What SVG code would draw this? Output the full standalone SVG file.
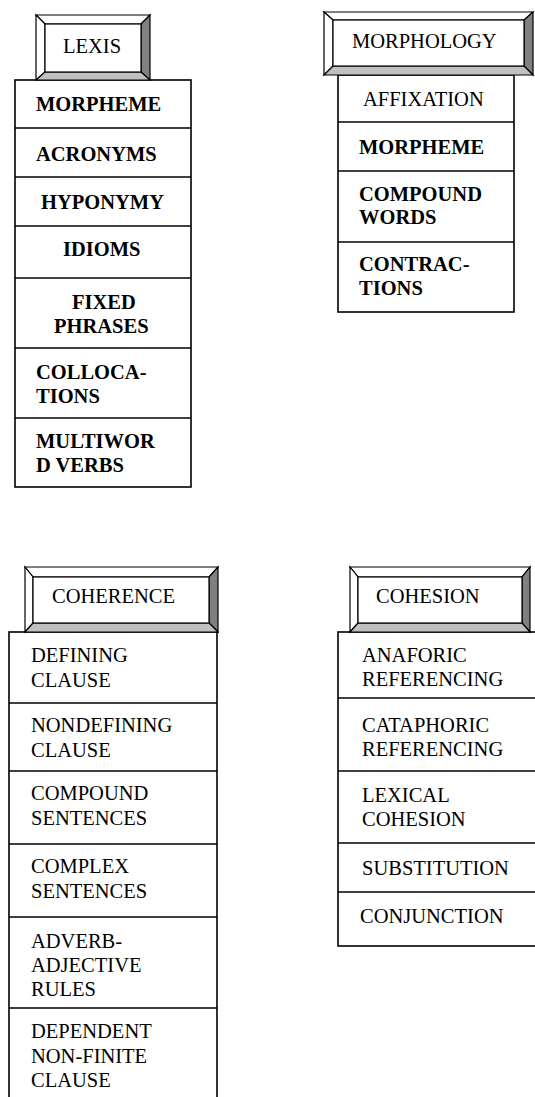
<svg xmlns="http://www.w3.org/2000/svg" width="535" height="1097" viewBox="0 0 535 1097" font-family="Liberation Serif, Times New Roman, DejaVu Serif, serif" font-size="20.5">
<style>
.bg{fill:#fff}
.col{fill:#fff;stroke:#000;stroke-width:1.6}
.sep{stroke:#000;stroke-width:1.6}
.lt{fill:#fff;stroke:#000;stroke-width:1.2;stroke-linejoin:miter}
.dk{fill:#808080;stroke:#000;stroke-width:1.2}
.md{fill:#c0c0c0;stroke:#000;stroke-width:1.2}
.in{fill:#fff;stroke:#000;stroke-width:1.2}
text{fill:#000}
.b{font-weight:bold}
</style>
<rect class="bg" x="0" y="0" width="535" height="1097"/>

<g id="lexis">
  <rect class="col" x="15" y="80" width="176" height="407"/>
  <line class="sep" x1="15" y1="128" x2="191" y2="128"/>
  <line class="sep" x1="15" y1="177" x2="191" y2="177"/>
  <line class="sep" x1="15" y1="226" x2="191" y2="226"/>
  <line class="sep" x1="15" y1="278" x2="191" y2="278"/>
  <line class="sep" x1="15" y1="348" x2="191" y2="348"/>
  <line class="sep" x1="15" y1="418" x2="191" y2="418"/>
  <polygon class="lt" points="36,15 150,15 141,24 45,24"/>
  <polygon class="lt" points="36,15 45,24 45,72 36,80"/>
  <polygon class="dk" points="150,15 150,80 141,72 141,24"/>
  <polygon class="md" points="36,80 45,72 141,72 150,80"/>
  <rect class="in" x="45" y="24" width="96" height="48"/>
  <text x="63" y="53">LEXIS</text>
  <text class="b" x="36" y="110.7">MORPHEME</text>
  <text class="b" x="36" y="160.5">ACRONYMS</text>
  <text class="b" x="41" y="209">HYPONYMY</text>
  <text class="b" x="63" y="256">IDIOMS</text>
  <text class="b" x="72" y="309">FIXED</text>
  <text class="b" x="54" y="333">PHRASES</text>
  <text class="b" x="36" y="379">COLLOCA-</text>
  <text class="b" x="36" y="403">TIONS</text>
  <text class="b" x="36" y="447.5">MULTIWOR</text>
  <text class="b" x="36" y="471.5">D VERBS</text>
</g>

<g id="morphology">
  <rect class="col" x="338" y="75" width="176" height="237"/>
  <line class="sep" x1="338" y1="122" x2="514" y2="122"/>
  <line class="sep" x1="338" y1="171" x2="514" y2="171"/>
  <line class="sep" x1="338" y1="242" x2="514" y2="242"/>
  <polygon class="lt" points="324,12 533,12 524,20 333,20"/>
  <polygon class="lt" points="324,12 333,20 333,66 324,75"/>
  <polygon class="dk" points="533,12 533,75 524,66 524,20"/>
  <polygon class="md" points="324,75 333,66 524,66 533,75"/>
  <rect class="in" x="333" y="20" width="191" height="46"/>
  <text x="352" y="47.5">MORPHOLOGY</text>
  <text x="363" y="106">AFFIXATION</text>
  <text class="b" x="359" y="154">MORPHEME</text>
  <text class="b" x="359" y="200.7">COMPOUND</text>
  <text class="b" x="359" y="224">WORDS</text>
  <text class="b" x="359" y="270.7">CONTRAC-</text>
  <text class="b" x="359" y="295">TIONS</text>
</g>

<g id="coherence">
  <rect class="col" x="9" y="632" width="208" height="470"/>
  <line class="sep" x1="9" y1="703" x2="217" y2="703"/>
  <line class="sep" x1="9" y1="771" x2="217" y2="771"/>
  <line class="sep" x1="9" y1="844" x2="217" y2="844"/>
  <line class="sep" x1="9" y1="917" x2="217" y2="917"/>
  <line class="sep" x1="9" y1="1008" x2="217" y2="1008"/>
  <polygon class="lt" points="25,567 218,567 209,577 33,577"/>
  <polygon class="lt" points="25,567 33,577 33,623 25,632"/>
  <polygon class="dk" points="218,567 218,632 209,623 209,577"/>
  <polygon class="md" points="25,632 33,623 209,623 218,632"/>
  <rect class="in" x="33" y="577" width="176" height="46"/>
  <text x="52" y="603">COHERENCE</text>
  <text x="31" y="661.7">DEFINING</text>
  <text x="31" y="686.7">CLAUSE</text>
  <text x="31" y="731.7">NONDEFINING</text>
  <text x="31" y="756.7">CLAUSE</text>
  <text x="31" y="800">COMPOUND</text>
  <text x="31" y="825">SENTENCES</text>
  <text x="31" y="873.3">COMPLEX</text>
  <text x="31" y="898.3">SENTENCES</text>
  <text x="31" y="948.3">ADVERB-</text>
  <text x="31" y="972">ADJECTIVE</text>
  <text x="31" y="996">RULES</text>
  <text x="31" y="1038.3">DEPENDENT</text>
  <text x="31" y="1062.7">NON-FINITE</text>
  <text x="31" y="1086.7">CLAUSE</text>
</g>

<g id="cohesion">
  <rect class="col" x="338" y="632" width="200" height="314"/>
  <line class="sep" x1="338" y1="698" x2="538" y2="698"/>
  <line class="sep" x1="338" y1="771" x2="538" y2="771"/>
  <line class="sep" x1="338" y1="843" x2="538" y2="843"/>
  <line class="sep" x1="338" y1="892" x2="538" y2="892"/>
  <polygon class="lt" points="350,567 530,567 522,577 358,577"/>
  <polygon class="lt" points="350,567 358,577 358,623 350,632"/>
  <polygon class="dk" points="530,567 530,632 522,623 522,577"/>
  <polygon class="md" points="350,632 358,623 522,623 530,632"/>
  <rect class="in" x="358" y="577" width="164" height="46"/>
  <text x="376" y="603">COHESION</text>
  <text x="362" y="661.7">ANAFORIC</text>
  <text x="362" y="686">REFERENCING</text>
  <text x="362" y="731.7">CATAPHORIC</text>
  <text x="362" y="756">REFERENCING</text>
  <text x="362" y="801.7">LEXICAL</text>
  <text x="362" y="826">COHESION</text>
  <text x="362" y="875">SUBSTITUTION</text>
  <text x="360" y="922.7">CONJUNCTION</text>
</g>

<g id="connectors"></g>
</svg>
